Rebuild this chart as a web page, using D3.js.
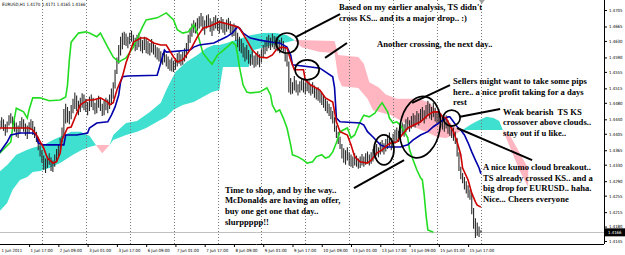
<!DOCTYPE html>
<html><head><meta charset="utf-8">
<script src="https://cdn.jsdelivr.net/npm/d3@7"></script>
<style>
body{margin:0;background:#fff}
svg{display:block}
.note{font-family:"Liberation Serif","Times New Roman",serif;font-weight:bold;font-size:8.6px;fill:#000;white-space:pre}
.ax text{font-family:"DejaVu Sans Condensed","Liberation Sans",Arial,sans-serif;font-size:4.3px;fill:#000}
</style></head><body>
<svg id="chart" width="625" height="255"></svg>
<script>
// EURUSD H1, bar 0 = 1 Jun 2011 00:00 (weekends skipped)
const highs = [1.4430,1.4437,1.4445,1.4440,1.4428,1.4435,1.4450,1.4455,1.4447,1.4438,1.4432,1.4425,1.4436,1.4445,1.4440,1.4430,1.4425,1.4433,1.4440,1.4436,1.4422,1.4410,
  1.4398,1.4380,1.4365,1.4352,1.4345,1.4350,1.4358,1.4348,1.4340,1.4355,1.4368,1.4380,
  1.4395,1.4420,1.4465,1.4478,
  1.4470,1.4460,1.4475,1.4490,1.4505,1.4498,1.4485,1.4492,1.4503,
  1.4500,1.4490,1.4482,1.4495,1.4500,1.4492,1.4480,1.4488,1.4497,1.4490,1.4478,1.4485,1.4492,1.4488,1.4500,1.4515,
  1.4530,1.4560,1.4590,1.4620,1.4640,1.4650,
  1.4652,1.4648,1.4640,1.4650,1.4655,1.4645,1.4638,
  1.4645,1.4650,1.4640,1.4632,1.4640,1.4636,
  1.4630,1.4625,1.4635,1.4628,1.4620,1.4615,
  1.4612,1.4605,1.4600,1.4607,1.4598,
  1.4592,1.4585,1.4590,1.4582,1.4588,
  1.4600,1.4605,1.4598,1.4603,1.4612,
  1.4625,1.4645,1.4660,
  1.4672,1.4680,1.4675,1.4685,1.4690,
  1.4698,1.4690,1.4680,1.4692,1.4695,1.4685,1.4678,1.4688,
  1.4692,1.4685,1.4680,1.4688,1.4683,1.4675,1.4682,1.4686,1.4678,1.4670,1.4672,
  1.4668,1.4650,1.4640,
  1.4635,1.4625,1.4615,1.4620,1.4608,1.4598,1.4605,1.4595,1.4600,
  1.4605,1.4598,1.4610,
  1.4620,1.4630,1.4640,1.4645,1.4638,1.4648,1.4642,
  1.4640,1.4635,1.4632,1.4638,1.4630,
  1.4615,1.4600,
  1.4580,
  1.4540,1.4530,1.4545,1.4535,1.4525,1.4532,1.4540,
  1.4535,1.4530,1.4538,1.4532,1.4525,1.4530,
  1.4522,1.4515,1.4518,1.4510,
  1.4505,1.4498,1.4490,1.4485,1.4478,1.4470,1.4460,
  1.4445,1.4425,1.4410,1.4398,
  1.4380,1.4370,1.4365,1.4372,1.4360,
  1.4355,1.4350,1.4358,1.4352,1.4345,1.4350,
  1.4356,1.4350,1.4358,1.4362,1.4355,1.4360,1.4368,
  1.4375,1.4380,1.4372,1.4385,1.4390,1.4382,1.4392,
  1.4400,1.4408,1.4395,1.4405,1.4415,1.4420,1.4412,
  1.4425,1.4432,1.4428,1.4440,1.4445,1.4438,1.4448,1.4455,1.4450,1.4460,1.4455,
  1.4465,1.4470,1.4462,1.4475,1.4485,1.4478,
  1.4470,1.4480,1.4468,1.4460,1.4465,
  1.4455,1.4448,1.4440,1.4450,1.4438,1.4430,
  1.4425,1.4420,1.4410,
  1.4395,1.4360,1.4325,1.4310,
  1.4300,1.4290,1.4280,1.4270,
  1.4260,1.4225,1.4200,
  1.4190,1.4180,1.4171];
const lows = [1.4405,1.4415,1.4420,1.4412,1.4400,1.4408,1.4425,1.4430,1.4420,1.4410,1.4398,1.4395,1.4405,1.4418,1.4410,1.4400,1.4392,1.4405,1.4415,1.4402,1.4395,1.4385,
  1.4365,1.4350,1.4335,1.4318,1.4310,1.4322,1.4330,1.4315,1.4312,1.4325,1.4338,1.4350,
  1.4360,1.4385,1.4400,1.4430,
  1.4432,1.4428,1.4440,1.4455,1.4465,1.4460,1.4450,1.4458,1.4468,
  1.4462,1.4458,1.4450,1.4460,1.4470,1.4462,1.4452,1.4455,1.4468,1.4460,1.4448,1.4450,1.4462,1.4455,1.4465,1.4475,
  1.4490,1.4515,1.4550,1.4575,1.4595,1.4610,
  1.4620,1.4618,1.4612,1.4622,1.4628,1.4615,1.4605,
  1.4608,1.4615,1.4605,1.4600,1.4608,1.4600,
  1.4598,1.4595,1.4602,1.4597,1.4590,1.4585,
  1.4580,1.4576,1.4572,1.4578,1.4568,
  1.4562,1.4558,1.4556,1.4555,1.4560,
  1.4568,1.4575,1.4570,1.4572,1.4580,
  1.4588,1.4605,1.4625,
  1.4640,1.4650,1.4648,1.4655,1.4660,
  1.4665,1.4655,1.4645,1.4660,1.4665,1.4652,1.4642,1.4655,
  1.4660,1.4655,1.4648,1.4658,1.4650,1.4645,1.4652,1.4658,1.4648,1.4640,1.4642,
  1.4630,1.4615,1.4605,
  1.4600,1.4590,1.4580,1.4585,1.4575,1.4570,1.4572,1.4565,1.4568,
  1.4572,1.4566,1.4578,
  1.4588,1.4598,1.4605,1.4612,1.4608,1.4615,1.4610,
  1.4608,1.4605,1.4600,1.4608,1.4600,
  1.4580,1.4568,
  1.4505,
  1.4500,1.4502,1.4510,1.4505,1.4498,1.4505,1.4510,
  1.4505,1.4500,1.4508,1.4503,1.4498,1.4502,
  1.4492,1.4488,1.4485,1.4480,
  1.4475,1.4468,1.4460,1.4455,1.4448,1.4440,1.4430,
  1.4410,1.4395,1.4380,1.4368,
  1.4345,1.4335,1.4330,1.4340,1.4328,
  1.4325,1.4322,1.4328,1.4325,1.4320,1.4322,
  1.4328,1.4325,1.4330,1.4335,1.4328,1.4332,1.4338,
  1.4345,1.4352,1.4348,1.4355,1.4360,1.4355,1.4362,
  1.4368,1.4375,1.4365,1.4372,1.4380,1.4388,1.4385,
  1.4395,1.4402,1.4398,1.4408,1.4415,1.4410,1.4418,1.4422,1.4420,1.4428,1.4425,
  1.4432,1.4438,1.4430,1.4440,1.4448,1.4442,
  1.4438,1.4445,1.4435,1.4430,1.4432,
  1.4420,1.4415,1.4410,1.4418,1.4405,1.4400,
  1.4395,1.4388,1.4380,
  1.4350,1.4315,1.4295,1.4285,
  1.4270,1.4260,1.4250,1.4245,
  1.4210,1.4175,1.4152,
  1.4158,1.4155,1.4165];

// ichimoku lines as [bar, price] vertices
const tenkan = [[0,1.4419],[17,1.4419],[19,1.4414],[21,1.4402],[25,1.4370],[27,1.4346],[30,1.4334],[32,1.4337],[34,1.4358],[35,1.4390],[38,1.4419],[40,1.4421],[42,1.4443],[45,1.4475],[49,1.4487],[52,1.4487],[56,1.4492],[60,1.4482],[61,1.4475],[63,1.4480],[65,1.4511],[68,1.4543],[70,1.4577],[74,1.4627],[78,1.4637],[81,1.4637],[85,1.4625],[89,1.4620],[92,1.4620],[96,1.4591],[98,1.4579],[101,1.4584],[103,1.4596],[106,1.4615],[109,1.4640],[112,1.4661],[116,1.4666],[121,1.4676],[124,1.4673],[127,1.4669],[131,1.4664],[132,1.4661],[136,1.4632],[139,1.4608],[143,1.4591],[147,1.4589],[150,1.4596],[152,1.4608],[155,1.4615],[158,1.4613],[160,1.4584],[162,1.4560],[167,1.4560],[168,1.4535],[171,1.4523],[176,1.4511],[179,1.4492],[183,1.4482],[184,1.4458],[185,1.4434],[187,1.4410],[191,1.4402],[193,1.4378],[195,1.4349],[198,1.4337],[202,1.4334],[204,1.4341],[207,1.4358],[210,1.4366],[213,1.4378],[215,1.4383],[218,1.4385],[220,1.4397],[224,1.4419],[231,1.4434],[235,1.4450],[238,1.4458],[241,1.4458],[243,1.4446],[245,1.4443],[247,1.4426],[249,1.4410],[251,1.4385],[253,1.4354],[254,1.4322],[257,1.4293],[259,1.4261],[261,1.4240],[262,1.4232],[264,1.4227]];
const kijun = [[0,1.4354],[5,1.4385],[7,1.4402],[12,1.4407],[19,1.4407],[21,1.4402],[22,1.4383],[25,1.4378],[36,1.4378],[37,1.4402],[43,1.4402],[49,1.4407],[50,1.4419],[54,1.4431],[60,1.4434],[62,1.4450],[64,1.4470],[66,1.4499],[67,1.4530],[68,1.4543],[71,1.4545],[87,1.4547],[89,1.4577],[91,1.4608],[92,1.4603],[105,1.4608],[107,1.4615],[110,1.4620],[118,1.4625],[125,1.4640],[128,1.4649],[131,1.4664],[132,1.4661],[134,1.4649],[138,1.4637],[143,1.4632],[150,1.4627],[154,1.4625],[158,1.4615],[160,1.4596],[161,1.4572],[171,1.4567],[176,1.4564],[183,1.4543],[184,1.4516],[185,1.4443],[187,1.4434],[198,1.4431],[200,1.4426],[202,1.4410],[205,1.4397],[209,1.4378],[212,1.4373],[220,1.4373],[224,1.4378],[227,1.4390],[231,1.4402],[235,1.4410],[238,1.4422],[242,1.4434],[246,1.4446],[247,1.4446],[249,1.4434],[251,1.4422],[253,1.4414],[255,1.4402],[257,1.4383],[259,1.4361],[261,1.4341],[263,1.4322],[264,1.4308]];
const chikou = [[0,1.4354],[7,1.4385],[8,1.4419],[10,1.4467],[14,1.4458],[16,1.4443],[17,1.4463],[19,1.4492],[23,1.4492],[28,1.4485],[34,1.4487],[37,1.4494],[38,1.4523],[39,1.4584],[40,1.4627],[44,1.4649],[48,1.4652],[50,1.4649],[54,1.4640],[56,1.4649],[60,1.4615],[63,1.4591],[66,1.4579],[68,1.4584],[70,1.4589],[74,1.4615],[79,1.4664],[81,1.4681],[87,1.4686],[92,1.4698],[96,1.4681],[98,1.4657],[101,1.4649],[104,1.4652],[107,1.4669],[109,1.4649],[112,1.4601],[115,1.4584],[117,1.4574],[120,1.4596],[122,1.4603],[126,1.4618],[128,1.4627],[130,1.4620],[131,1.4596],[132,1.4567],[134,1.4523],[136,1.4506],[138,1.4504],[143,1.4506],[147,1.4516],[149,1.4499],[150,1.4475],[152,1.4458],[154,1.4463],[156,1.4443],[158,1.4419],[160,1.4378],[161,1.4354],[164,1.4349],[167,1.4341],[169,1.4334],[172,1.4337],[174,1.4349],[177,1.4354],[179,1.4346],[181,1.4349],[183,1.4361],[185,1.4383],[187,1.4410],[191,1.4419],[193,1.4395],[195,1.4402],[198,1.4434],[200,1.4450],[203,1.4446],[206,1.4455],[209,1.4475],[210,1.4480],[213,1.4458],[214,1.4443],[216,1.4431],[218,1.4434],[220,1.4426],[221,1.4419],[224,1.4395],[225,1.4366],[227,1.4341],[229,1.4317],[231,1.4298],[232,1.4293],[233,1.4257],[234,1.4208],[235,1.4172],[238,1.4166]];
const spanA = [[0,1.4310],[5,1.4329],[10,1.4354],[16,1.4366],[19,1.4371],[25,1.4378],[30,1.4390],[36,1.4402],[40,1.4410],[45,1.4410],[50,1.4400],[54,1.4375],[57,1.4358],[61,1.4378],[63,1.4402],[67,1.4419],[70,1.4431],[76,1.4436],[83,1.4458],[89,1.4480],[92,1.4511],[97,1.4555],[103,1.4579],[109,1.4596],[114,1.4613],[118,1.4620],[121,1.4620],[125,1.4625],[130,1.4632],[138,1.4644],[145,1.4649],[152,1.4649],[158,1.4644],[162,1.4632],[166,1.4615],[176,1.4603],[184,1.4601],[186,1.4540],[188,1.4520],[197,1.4516],[202,1.4490],[205,1.4462],[215,1.4450],[222,1.4432],[228,1.4420],[235,1.4408],[240,1.4397],[245,1.4395],[250,1.4404],[254,1.4414],[258,1.4426],[262,1.4436],[267,1.4446],[271,1.4443],[274,1.4436],[276,1.4414],[280,1.4371],[285,1.4317],[290,1.4274]];
const spanB = [[0,1.4213],[5,1.4237],[8,1.4269],[12,1.4293],[16,1.4300],[19,1.4312],[23,1.4315],[28,1.4322],[34,1.4334],[41,1.4354],[46,1.4366],[50,1.4373],[54,1.4378],[61,1.4378],[63,1.4390],[70,1.4402],[76,1.4410],[81,1.4419],[87,1.4434],[92,1.4446],[96,1.4463],[101,1.4475],[107,1.4482],[112,1.4494],[117,1.4506],[121,1.4511],[123,1.4567],[137,1.4567],[140,1.4608],[150,1.4620],[158,1.4627],[163,1.4632],[184,1.4630],[186,1.4596],[197,1.4591],[200,1.4575],[203,1.4530],[208,1.4518],[212,1.4500],[218,1.4490],[230,1.4490],[236,1.4480],[240,1.4458],[245,1.4438],[250,1.4421],[255,1.4414],[270,1.4414],[276,1.4414],[280,1.4400],[285,1.4360],[290,1.4320]];

const priceTicks = [1.4705,1.4665,1.4630,1.4590,1.4555,1.4515,1.4480,1.4440,1.4405,1.4365,1.4330,1.4290,1.4255,1.4215,1.4180,1.4145];
const timeTickBars = [0,17,33,49,65,81,97,113,129,145,161,177,193,209,225,241,257];
const timeTickLabels = ["1 Jun 2011","1 Jun 17:00","2 Jun 09:00","3 Jun 01:00","3 Jun 17:00","6 Jun 09:00","7 Jun 01:00","7 Jun 17:00","8 Jun 09:00","9 Jun 01:00","9 Jun 17:00","10 Jun 09:00","13 Jun 01:00","13 Jun 17:00","14 Jun 09:00","15 Jun 01:00","15 Jun 17:00"];
const gridBars = [24,48,72,96,120,144,168,192,216,240,264];
const lastBar = {o:1.4170,h:1.4171,l:1.4165,c:1.4166};

// annotations, anchored in bar/price
const circles = [[158,1.4625,11,10,0],[169,1.4560,12,10,0],[211,1.4366,10,15,0],[230.7,1.4421,20,31,10],[248,1.4443,8.5,8,0]];
const pointers = [[163,1.4640,187,1.4695],[178.8,1.4589,190.8,1.4625],[194.6,1.4273,222,1.4341],[226.4,1.4480,247.1,1.4523],[252.6,1.4446,274.5,1.4465],[251,1.4419,292,1.4341]];
const notes = [
  [186.4,1.4712,["Based on my earlier analysis, TS didn't","cross KS... and its a major drop.. :)"]],
  [207.2,1.4623,["Another crossing, the next day.."]],
  [248.8,1.4533,["Sellers might want to take some pips","here.. a nice profit taking for a days","rest"]],
  [276.1,1.4458,["Weak bearish  TS KS","crossover above clouds..","stay out if u like.."]],
  [265.2,1.4324,["A nice kumo cloud breakout..","TS already crossed KS.. and a","big drop for EURUSD.. haha.","Nice... Cheers everyone"]],
  [124.1,1.4269,["Time to shop, and by the way..","McDonalds are having an offer,","buy one get one that day..","slurppppp!!"]]
];

const svg = d3.select("#chart");
const plotR = 604, plotB = 244;
const x = d3.scaleLinear().domain([0,240]).range([-2,437]);
const y = d3.scaleLinear().domain([1.4145,1.4705]).range([241,10]);

svg.append("clipPath").attr("id","plot").append("rect").attr("width",plotR).attr("height",plotB);
const g = svg.append("g").attr("clip-path","url(#plot)");

// kumo: cyan where A above B, pink where B above A
const toBottom = d3.area().x(d => x(d[0])).y0(plotB).y1(d => y(d[1]));
const toTop = d3.area().x(d => x(d[0])).y0(0).y1(d => y(d[1]));
svg.append("clipPath").attr("id","aboveB").append("path").attr("d", toTop(spanB));
svg.append("clipPath").attr("id","aboveA").append("path").attr("d", toTop(spanA));
g.append("path").attr("d", toBottom(spanA)).attr("fill","#40e0d0").attr("clip-path","url(#aboveB)");
g.append("path").attr("d", toBottom(spanB)).attr("fill","#ffb6c1").attr("clip-path","url(#aboveA)");

// grid
g.selectAll(".grid").data(gridBars).enter().append("line")
  .attr("x1", d => Math.round(x(d)) + 0.5).attr("x2", d => Math.round(x(d)) + 0.5)
  .attr("y1", 0).attr("y2", plotB)
  .attr("stroke","#777").attr("stroke-dasharray","1,2");

// bid line
g.append("line").attr("x1",0).attr("x2",plotR).attr("y1",Math.round(y(lastBar.c))+0.5).attr("y2",Math.round(y(lastBar.c))+0.5).attr("stroke","#c0c0c0");

// chart shift marker
const shiftX = x(highs.length - 0.5);
g.append("path").attr("d",`M${shiftX-3},0H${shiftX+3}L${shiftX},4Z`).attr("fill","#a0a0a0");

// candles
g.selectAll(".bar").data(highs).enter().append("line")
  .attr("x1",(d,i) => x(i)).attr("x2",(d,i) => x(i))
  .attr("y1", d => y(d)).attr("y2",(d,i) => y(lows[i]))
  .attr("stroke","#2a2a2a").attr("stroke-width",1.1);

const line = d3.line().x(d => x(d[0])).y(d => y(d[1]));
g.append("path").attr("d", line(chikou)).attr("fill","none").attr("stroke","#22dd22").attr("stroke-width",1.6);
g.append("path").attr("d", line(kijun)).attr("fill","none").attr("stroke","#0000aa").attr("stroke-width",1.6);
g.append("path").attr("d", line(tenkan)).attr("fill","none").attr("stroke","#cc0000").attr("stroke-width",1.6);

// axes
const yAxis = svg.append("g").attr("class","ax").attr("transform",`translate(${plotR},0)`)
  .call(d3.axisRight(y).tickValues(priceTicks).tickFormat(d3.format(".4f")).tickSize(3).tickPadding(2));
yAxis.select(".domain").attr("d",`M0.5,0V${plotB}`).attr("stroke","#000");
const xAxis = svg.append("g").attr("class","ax").attr("transform",`translate(0,${plotB})`)
  .call(d3.axisBottom(x).tickValues(timeTickBars).tickFormat((d,i) => timeTickLabels[i]).tickSize(3).tickPadding(2));
xAxis.select(".domain").attr("d",`M0,0.5H${plotR}`).attr("stroke","#000");
xAxis.selectAll("text").attr("text-anchor","start").attr("dx", (d,i) => i === 0 ? 3 : 1);

// current price tag
const bidY = y(lastBar.c);
svg.append("rect").attr("x",plotR+1).attr("y",bidY-4).attr("width",20).attr("height",8).attr("fill","#000");
svg.append("text").attr("x",plotR+4).attr("y",bidY+1.6)
  .style("font-family","DejaVu Sans Condensed,Liberation Sans,Arial,sans-serif").style("font-size","4.3px").attr("fill","#fff").text(d3.format(".4f")(lastBar.c));

// header
svg.append("text").attr("x",2).attr("y",6)
  .style("font-family","DejaVu Sans Condensed,Liberation Sans,Arial,sans-serif").style("font-size","4.4px")
  .text(`EURUSD,H1  ${lastBar.o.toFixed(4)} ${lastBar.h.toFixed(4)} ${lastBar.l.toFixed(4)} ${lastBar.c.toFixed(4)}`);

// annotations
const ann = svg.append("g");
ann.selectAll("ellipse").data(circles).enter().append("ellipse")
  .attr("cx",0).attr("cy",0).attr("rx",d => d[2]).attr("ry",d => d[3])
  .attr("transform",d => `translate(${x(d[0])},${y(d[1])}) rotate(${d[4]})`)
  .attr("fill","none").attr("stroke","#000").attr("stroke-width",1.7);
ann.selectAll("line").data(pointers).enter().append("line")
  .attr("x1",d => x(d[0])).attr("y1",d => y(d[1])).attr("x2",d => x(d[2])).attr("y2",d => y(d[3]))
  .attr("stroke","#000").attr("stroke-width",2);
notes.forEach(n => {
  const t = ann.append("text").attr("class","note").attr("x",x(n[0])).attr("y",y(n[1]));
  n[2].forEach((s,i) => t.append("tspan").attr("x",x(n[0])).attr("dy", i ? 10.6 : 3).text(s));
});
</script>
</body></html>
